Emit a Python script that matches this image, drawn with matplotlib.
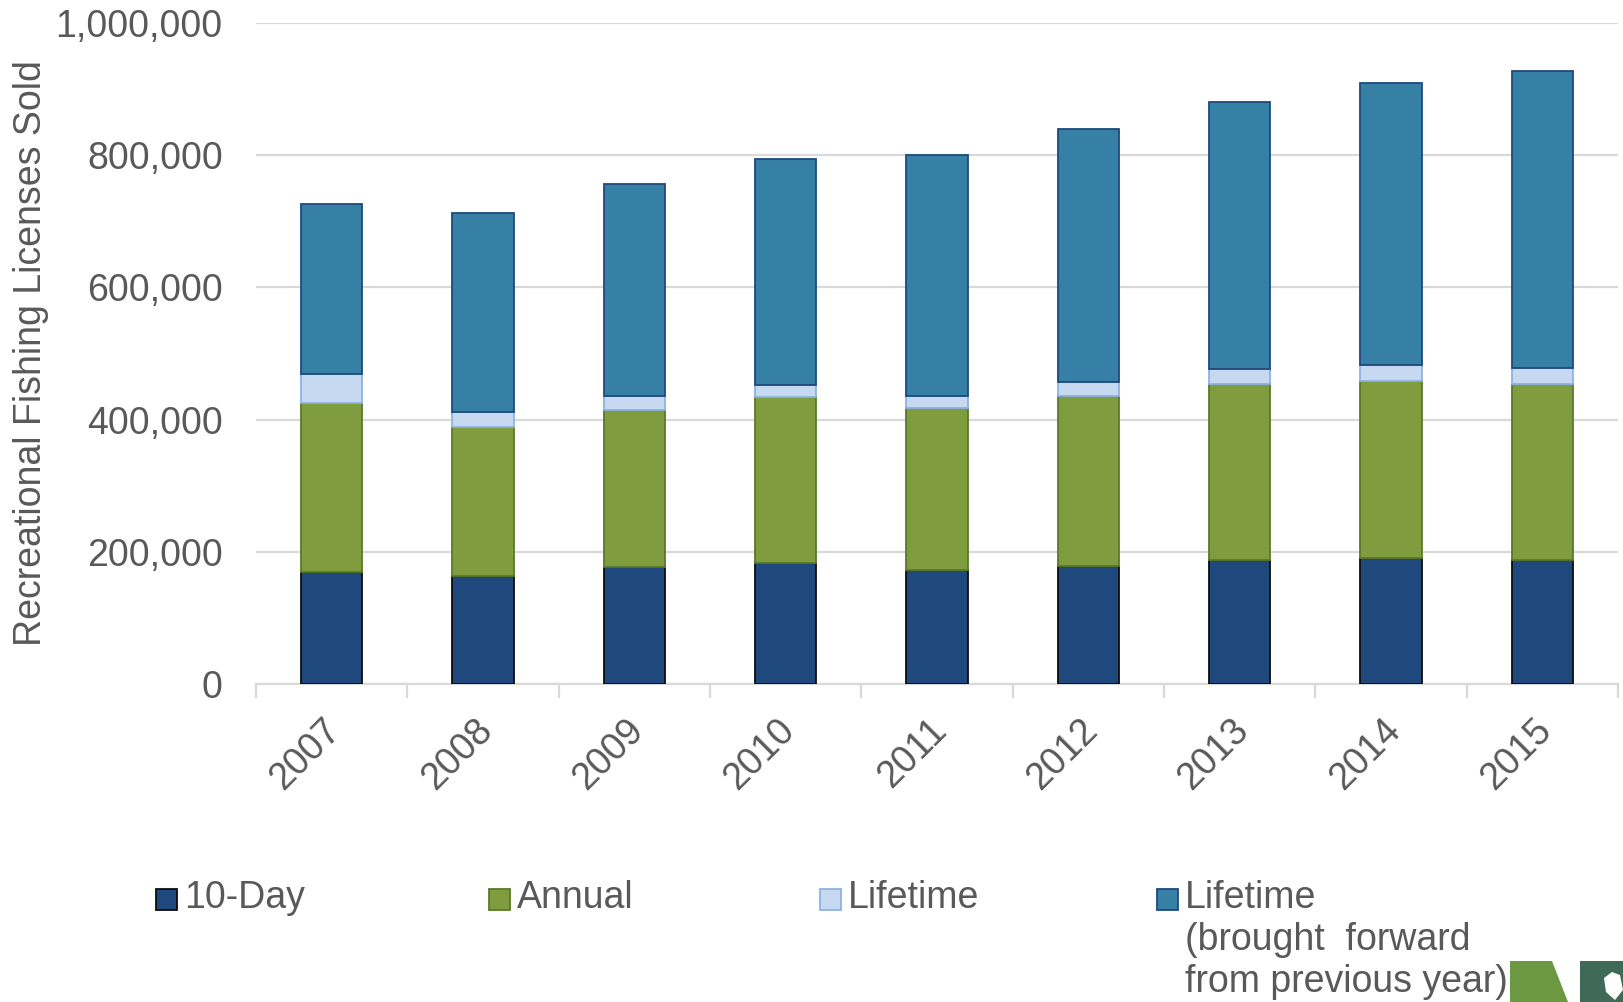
import numpy as np
import matplotlib
matplotlib.use("Agg")
import matplotlib.pyplot as plt
from matplotlib.patches import Rectangle, Polygon
from matplotlib.ticker import FuncFormatter
from matplotlib.transforms import ScaledTranslation

plt.rcParams["font.family"] = ["Liberation Sans", "DejaVu Sans"]

# licenses sold per year, by type
years = ["2007", "2008", "2009", "2010", "2011", "2012", "2013", "2014", "2015"]
ten_day = [170000, 163000, 177000, 183000, 173000, 179000, 188000, 191000, 188000]
annual = [255000, 226000, 237000, 251000, 244000, 256000, 266000, 268000, 266000]
lifetime = [44000, 22000, 21000, 18000, 19000, 22000, 23000, 24000, 24000]
lifetime_bf = [257000, 301000, 322000, 343000, 364000, 382000, 404000, 426000, 449000]

series_labels = ["10-Day", "Annual", "Lifetime",
                 "Lifetime\n(brought  forward\nfrom previous year)"]
fills = ["#1F497D", "#7F9D3F", "#C6D9F1", "#3780A5"]
edges = ["#0D0D0D", "#5B7A2A", "#8DB3E2", "#1F497D"]

GRAY = "#595959"
GRID = "#D9D9D9"
FS = 27

W, H = 1623, 1002
fig = plt.figure(figsize=(W / 100, H / 100), dpi=100)
ax = fig.add_axes([256 / W, 1 - 684 / H, 1362 / W, 661 / H])

x = np.arange(len(years))
bottom = np.zeros(len(years))
for vals, fc, ec in zip([ten_day, annual, lifetime, lifetime_bf], fills, edges):
    ax.bar(x, vals, width=0.405, bottom=bottom, color=fc, edgecolor=ec,
           linewidth=1.3, zorder=3)
    bottom += np.array(vals)

ax.set_xlim(-0.5, len(years) - 0.5)
ax.set_ylim(0, 1000000)
ax.set_yticks(np.arange(0, 1000001, 200000))
ax.yaxis.set_major_formatter(FuncFormatter(lambda v, p: f"{int(v):,}"))
ax.tick_params(axis="y", length=0, pad=24, labelsize=FS, labelcolor=GRAY)
ax.grid(axis="y", color=GRID, linewidth=1.6, zorder=0)

# ticks between categories, labels at categories
ax.set_xticks(np.arange(-0.5, len(years)))
ax.set_xticklabels([])
ax.set_xticks(x, minor=True)
ax.set_xticklabels(years, minor=True, rotation=45, ha="right", va="top",
                   rotation_mode="anchor")
ax.tick_params(axis="x", which="major", length=10, width=1.6, color=GRID)
ax.tick_params(axis="x", which="minor", length=0, pad=19, labelsize=FS,
               labelcolor=GRAY)
shift = ScaledTranslation(-0.09, -0.02, fig.dpi_scale_trans)
for lab in ax.get_xticklabels(minor=True):
    lab.set_transform(lab.get_transform() + shift)

for s in ["top", "right", "left"]:
    ax.spines[s].set_visible(False)
ax.spines["bottom"].set_color(GRID)
ax.spines["bottom"].set_linewidth(1.6)

ax.set_ylabel("Recreational Fishing Licenses Sold", fontsize=FS, color=GRAY)
ax.yaxis.set_label_coords((49 - 256) / 1362, 0.5)

# legend, laid out by hand
leg_x = [156, 489, 820, 1157]
for lx, lab, fc, ec in zip(leg_x, series_labels, fills, edges):
    fig.patches.append(Rectangle((lx / W, 1 - 910 / H), 21 / W, 21 / H,
                                 transform=fig.transFigure, facecolor=fc,
                                 edgecolor=ec, linewidth=1.3))
    fig.text((lx + 28) / W, 1 - 880 / H, lab, fontsize=FS, color=GRAY,
             ha="left", va="top", linespacing=1.22)

# logo fragment in the bottom-right corner
fig.patches.append(Polygon([(1510 / W, 1 - 961 / H), (1552 / W, 1 - 961 / H),
                            (1568 / W, 0), (1510 / W, 0)],
                           closed=True, transform=fig.transFigure,
                           facecolor="#6C9842", edgecolor="none"))
fig.patches.append(Polygon([(1580 / W, 1 - 961 / H), (1, 1 - 961 / H),
                            (1, 0), (1580 / W, 0)],
                           closed=True, transform=fig.transFigure,
                           facecolor="#3F6A58", edgecolor="none"))
fig.patches.append(Polygon([(1604 / W, 1 - 978 / H), (1612 / W, 1 - 972 / H),
                            (1620 / W, 1 - 975 / H), (1623 / W, 1 - 990 / H),
                            (1615 / W, 1 - 1000 / H), (1606 / W, 1 - 992 / H)],
                           closed=True, transform=fig.transFigure,
                           facecolor="white", edgecolor="none"))

fig.savefig("out.png", dpi=100)
